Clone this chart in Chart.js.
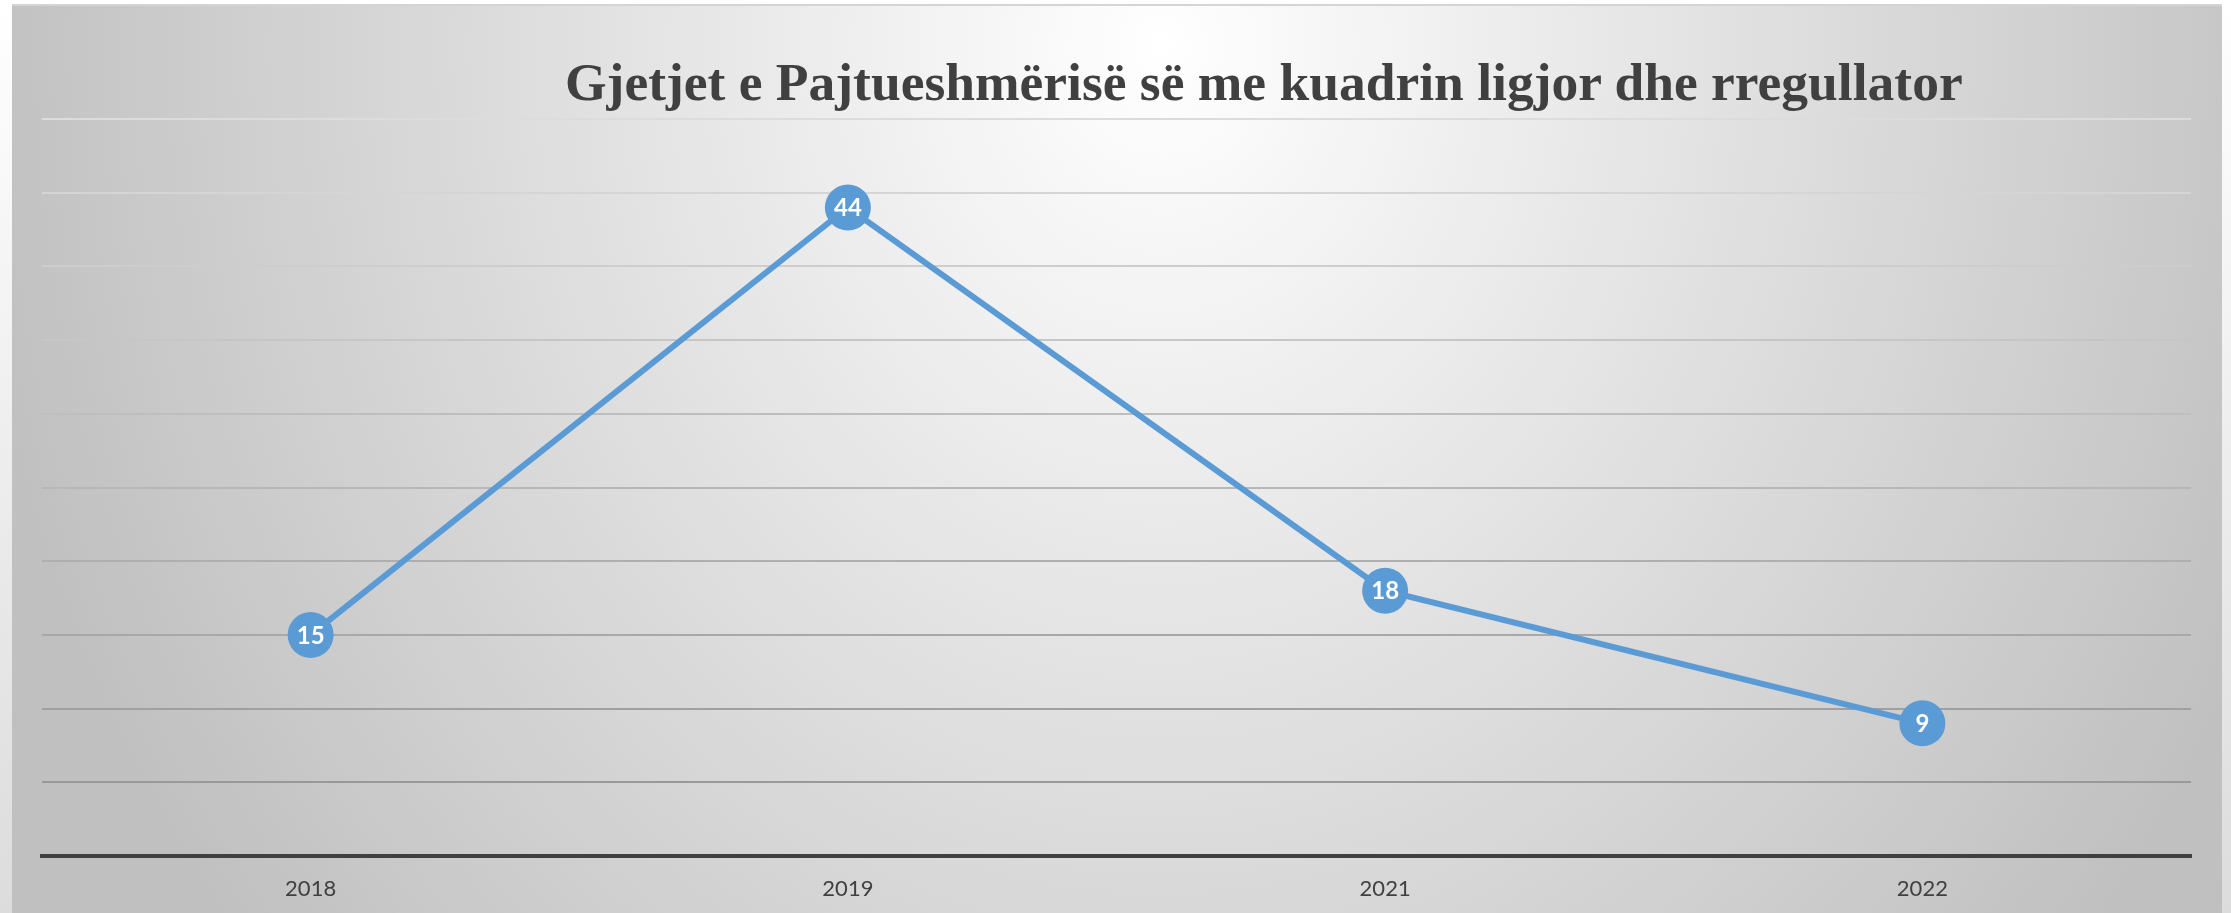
<!DOCTYPE html>
<html>
<head>
<meta charset="utf-8">
<script src="https://cdn.jsdelivr.net/npm/chart.js@4.4.1/dist/chart.umd.min.js"></script>
<style>
  html, body { margin: 0; padding: 0; }
  body { width: 2231px; height: 913px; overflow: hidden; position: relative;
         background: linear-gradient(to bottom, #ffffff 0%, #dcdcdc 100%); }
  #frame { position: absolute; left: 12px; top: 4px; width: 2210px; height: 909px;
           border-top: 2px solid #d4d4d4;
           background: radial-gradient(ellipse 1200px 1400px at 1150px 40px, #ffffff 0%, #c0c0c0 100%); }
  #title { position: absolute; left: 0; top: 51px; width: 2231px; text-align: left;
           font-family: "Liberation Serif", "Times New Roman", serif; font-weight: bold;
           font-size: 53.5px; color: #404040; white-space: nowrap; }
  #title span { position: absolute; left: 565px; }
  #wrap { position: absolute; left: 0; top: 0; width: 2231px; height: 913px; }
</style>
</head>
<body>
<div id="frame"></div>
<div id="title"><span>Gjetjet e Pajtueshmërisë së me kuadrin ligjor dhe rregullator</span></div>
<div id="wrap"><canvas id="c" width="2231" height="913"></canvas></div>
<script>
const categories = ["2018", "2019", "2021", "2022"];
const values = [15, 44, 18, 9];
const yTicks = [0, 5, 10, 15, 20, 25, 30, 35, 40, 45, 50];

const labelPlugin = {
  id: 'pointLabels',
  afterDatasetsDraw(chart) {
    const ctx = chart.ctx;
    const meta = chart.getDatasetMeta(0);
    ctx.save();
    ctx.fillStyle = '#ffffff';
    ctx.font = 'bold 24px Lato, "Open Sans", sans-serif';
    ctx.textAlign = 'center';
    ctx.textBaseline = 'middle';
    meta.data.forEach((pt, i) => {
      ctx.fillText(String(values[i]), pt.x, pt.y + 1);
    });
    ctx.restore();
  }
};

new Chart(document.getElementById('c'), {
  type: 'line',
  data: {
    labels: categories,
    datasets: [{
      data: values,
      borderColor: '#5b9bd5',
      borderWidth: 6,
      tension: 0,
      pointRadius: 23,
      pointHoverRadius: 23,
      pointBackgroundColor: '#5b9bd5',
      pointBorderWidth: 0,
      clip: false
    }]
  },
  options: {
    responsive: false,
    animation: false,
    events: [],
    layout: { padding: { left: 42, right: 40, top: 119, bottom: 0 } },
    plugins: { legend: { display: false }, title: { display: false }, tooltip: { enabled: false } },
    scales: {
      x: {
        offset: true,
        afterFit: (axis) => { axis.height = 57; },
        grid: { display: false },
        border: { display: true, color: '#404040', width: 4 },
        ticks: { color: '#404040', font: { family: 'Lato, "Open Sans", sans-serif', size: 22 }, padding: 12 }
      },
      y: {
        min: 0, max: 50,
        afterBuildTicks: (axis) => { axis.ticks = yTicks.map(v => ({ value: v })); },
        afterFit: (axis) => { axis.width = 0; },
        ticks: { display: false },
        border: { display: false },
        grid: {
          drawTicks: false,
          lineWidth: 2,
          color: (ctx) => {
            const v = ctx.tick ? ctx.tick.value : 0;
            if (v === 0) return 'rgba(0,0,0,0)';
            const t = v / 50;
            const c = Math.round(145 + t * 75);
            return `rgb(${c},${c},${c})`;
          }
        }
      }
    }
  },
  plugins: [labelPlugin]
});
</script>
</body>
</html>
